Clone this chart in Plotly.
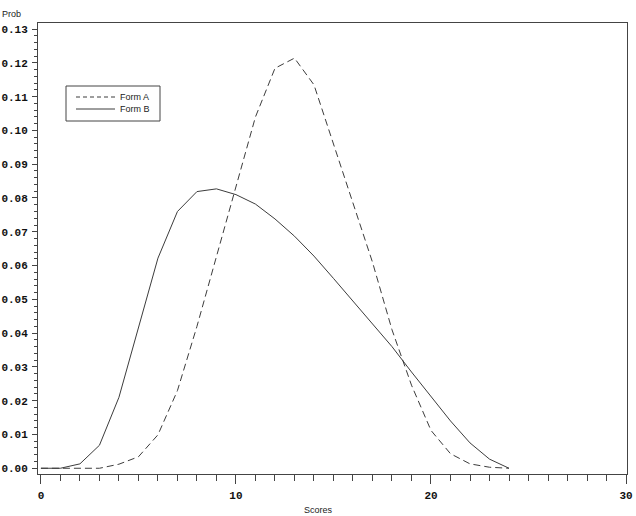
import plotly.graph_objects as go

scores = list(range(0, 25))
form_a = [0.0, 0.0, 0.0, 0.0, 0.0012, 0.0034, 0.0099, 0.023, 0.042, 0.0627,
          0.084, 0.104, 0.1184, 0.1214, 0.1135, 0.096, 0.079, 0.061, 0.041, 0.0246,
          0.0112, 0.0043, 0.0013, 0.0003, 0.0]
form_b = [0.0, 0.0, 0.0013, 0.0068, 0.021, 0.042, 0.0622, 0.076, 0.0819, 0.0827,
          0.081, 0.0782, 0.0738, 0.0687, 0.0628, 0.0562, 0.0495, 0.0428, 0.0360, 0.0285,
          0.0212, 0.0140, 0.0075, 0.0027, 0.0]
series_names = ["Form A", "Form B"]

x_ticks = [0, 10, 20, 30]
y_ticks = [round(i * 0.01, 2) for i in range(14)]
y_labels = ["%.2f" % v for v in y_ticks]

W, H = 636, 516
ML, MR, MT, MB = 38, 9, 23, 42
plot_w = W - ML - MR
plot_h = H - MT - MB


def px(xp):
    return (xp - ML) / plot_w


def py(yp):
    return (H - MB - yp) / plot_h


line_col = "#3c3c3c"
dash_a = "7px,4px"
fig = go.Figure()
fig.add_trace(go.Scatter(x=scores, y=form_a, mode="lines", name=series_names[0],
                         line=dict(color=line_col, width=1, dash=dash_a)))
fig.add_trace(go.Scatter(x=scores, y=form_b, mode="lines", name=series_names[1],
                         line=dict(color=line_col, width=1)))

tickfont = dict(family="Liberation Mono", size=11, color="#111", weight="bold")
lbl_font = dict(family="Liberation Sans", size=9, color="#222")

shapes = [
    dict(type="rect", xref="paper", yref="paper", x0=px(66), x1=px(160), y0=py(121), y1=py(86),
         line=dict(color="#444", width=1), fillcolor="white", layer="above"),
    dict(type="line", xref="paper", yref="paper", x0=px(76), x1=px(115), y0=py(97), y1=py(97),
         line=dict(color=line_col, width=1, dash="4px,3px")),
    dict(type="line", xref="paper", yref="paper", x0=px(76), x1=px(115), y0=py(109), y1=py(109),
         line=dict(color=line_col, width=1)),
]
annotations = [
    dict(text=series_names[0], x=px(118), y=py(97), xanchor="left", yanchor="middle"),
    dict(text=series_names[1], x=px(118), y=py(109), xanchor="left", yanchor="middle"),
    dict(text="Prob", x=px(11), y=py(14), xanchor="center", yanchor="middle"),
    dict(text="Scores", x=px(318), y=py(510), xanchor="center", yanchor="middle"),
]
for a in annotations:
    a.update(xref="paper", yref="paper", showarrow=False, font=lbl_font)

fig.update_layout(
    width=W, height=H,
    margin=dict(l=ML, r=MR, t=MT, b=MB),
    plot_bgcolor="white", paper_bgcolor="white",
    showlegend=False,
    xaxis=dict(range=[-0.15, 30.05], tickvals=x_ticks, ticktext=[str(v) for v in x_ticks],
               ticks="outside", ticklen=9, tickcolor="#444", tickwidth=1,
               showline=True, linecolor="#444", linewidth=1, mirror=True,
               showgrid=False, zeroline=False, tickfont=tickfont, automargin=False,
               ticklabelstandoff=2,
               minor=dict(dtick=1, tick0=0, ticks="outside", ticklen=6, tickcolor="#444", showgrid=False)),
    yaxis=dict(range=[-0.0017, 0.1318], tickvals=y_ticks, ticktext=y_labels,
               ticks="outside", ticklen=5, tickcolor="#444", tickwidth=1,
               showline=True, linecolor="#444", linewidth=1, mirror=True,
               showgrid=False, zeroline=False, tickfont=tickfont, automargin=False,
               ticklabelstandoff=2,
               minor=dict(dtick=0.002, tick0=0, ticks="outside", ticklen=3, tickcolor="#444", showgrid=False)),
    shapes=shapes,
    annotations=annotations,
)

fig.write_html("out.html")
